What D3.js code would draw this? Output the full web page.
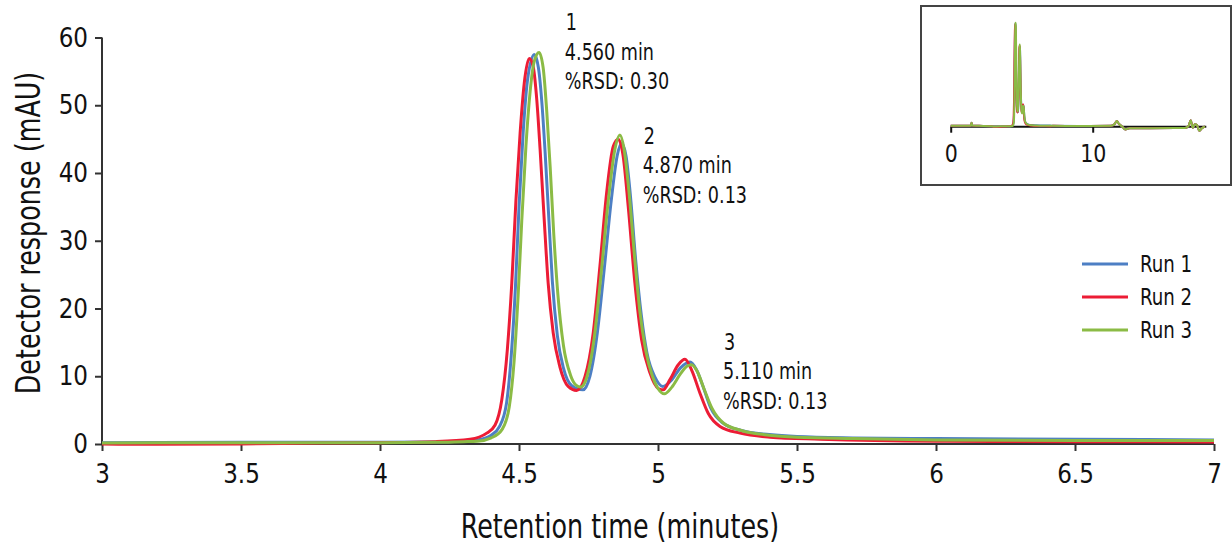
<!DOCTYPE html>
<html>
<head>
<meta charset="utf-8">
<script src="https://cdn.jsdelivr.net/npm/d3@7"></script>
<style>
    body { margin: 0; background: #fff; }
    svg text { font-family: "Liberation Sans Narrow", "DejaVu Sans Condensed", sans-serif; fill: #111; }
</style>
</head>
<body>
<div id="chart"></div>
<script>
// Chromatogram, three replicate runs (retention time in minutes, response in mAU)
var runNames = ["Run 1", "Run 2", "Run 3"];
var runColors = ["#4d7fc4", "#ec1c35", "#8bbb45"];

var run1 = [
    [3.0, 0.2], [3.5, 0.25], [4.0, 0.25], [4.2, 0.3], [4.3, 0.45], [4.35, 0.6], [4.4, 1.3],
    [4.43, 2.6], [4.455, 6], [4.472, 13], [4.487, 23], [4.5, 35], [4.515, 46], [4.53, 53.5],
    [4.555, 57.5], [4.57, 55.5], [4.583, 50], [4.594, 43], [4.607, 33.5], [4.62, 24],
    [4.638, 16], [4.66, 11.2], [4.69, 8.6], [4.73, 8.0], [4.755, 10], [4.782, 16.5],
    [4.807, 26], [4.832, 36], [4.853, 42.5], [4.869, 44.4], [4.885, 42.5], [4.9, 37],
    [4.92, 27], [4.94, 19], [4.96, 13.5], [4.99, 9.8], [5.017, 8.5], [5.05, 9.5],
    [5.08, 11.2], [5.115, 12.1], [5.138, 11], [5.162, 8.5], [5.19, 5.3], [5.23, 3.2],
    [5.3, 2.0], [5.4, 1.4], [5.5, 1.1], [5.7, 0.9], [6.0, 0.8], [6.5, 0.7], [7.0, 0.6]
];

var run2 = [
    [3.0, 0.0], [3.2, -0.05], [3.5, 0.0], [3.8, 0.15], [4.0, 0.2], [4.2, 0.35], [4.324, 0.7],
    [4.384, 1.6], [4.414, 2.8], [4.438, 6.5], [4.458, 13.9], [4.474, 23.7], [4.489, 36],
    [4.504, 45.9], [4.519, 53.3], [4.537, 56.9], [4.551, 55.7], [4.564, 50.8], [4.576, 43.4],
    [4.59, 33.6], [4.605, 23.7], [4.623, 16.4], [4.647, 11.4], [4.677, 8.5], [4.707, 7.9],
    [4.737, 9.9], [4.767, 16.4], [4.791, 26.2], [4.815, 37], [4.839, 43.9], [4.857, 45],
    [4.875, 42.4], [4.893, 35], [4.917, 23.7], [4.941, 15.4], [4.971, 10.5], [5.001, 8.2],
    [5.019, 8.0], [5.043, 9.5], [5.073, 11.7], [5.097, 12.5], [5.121, 10.9], [5.151, 7.5],
    [5.181, 4.5], [5.223, 2.6], [5.295, 1.6], [5.403, 1.0], [5.583, 0.7], [6.0, 0.4],
    [6.5, 0.35], [7.0, 0.3]
];

var run3 = [
    [3.0, 0.15], [3.5, 0.2], [4.0, 0.2], [4.2, 0.25], [4.3, 0.35], [4.35, 0.4], [4.4, 0.9],
    [4.44, 2.2], [4.465, 5.5], [4.482, 12], [4.497, 22], [4.51, 33], [4.525, 44], [4.54, 52],
    [4.555, 56.5], [4.572, 57.8], [4.587, 55.5], [4.6, 49], [4.612, 41], [4.625, 31],
    [4.64, 22], [4.66, 14.5], [4.685, 10.2], [4.705, 8.7], [4.722, 8.4], [4.745, 10],
    [4.77, 15.5], [4.795, 25], [4.82, 35.5], [4.845, 43.5], [4.863, 45.6], [4.878, 43.5],
    [4.895, 37.5], [4.915, 28], [4.935, 19.5], [4.955, 14], [4.98, 10], [5.0, 8.2],
    [5.023, 7.4], [5.05, 8.4], [5.08, 10.3], [5.105, 11.5], [5.121, 11.7], [5.14, 10.8],
    [5.165, 8.2], [5.195, 5.2], [5.235, 3.1], [5.3, 2.0], [5.4, 1.3], [5.5, 1.0],
    [5.7, 0.8], [6.0, 0.6], [6.5, 0.5], [7.0, 0.5]
];

// full run trace outside the zoomed window, shown in the inset only
var insetEarly = [[0, 0.5], [1.3, 0.5], [1.42, 0.6], [1.47, 2.2], [1.52, 0.6], [2.0, 0.5], [2.9, 0.3]];
var insetLate = [
    [7.2, 0.5], [9.0, 0.4], [11.3, 0.5], [11.55, 1.5], [11.7, 3.2], [11.85, 1.5], [12.05, 0.3],
    [12.3, -1.5], [12.6, -0.8], [14.0, -0.8], [16.5, -0.7], [16.75, 0.5], [16.9, 3.6],
    [17.05, -0.6], [17.2, 1.5], [17.35, 0.8], [17.5, -2.3], [17.7, -0.8], [17.9, 0.2]
];

var xTicks = [3, 3.5, 4, 4.5, 5, 5.5, 6, 6.5, 7];
var yTicks = [0, 10, 20, 30, 40, 50, 60];
var insetTicks = [0, 10];

var peakNumbers = ["1", "2", "3"];
var peakTimes = ["4.560 min", "4.870 min", "5.110 min"];
var peakRsd = ["%RSD: 0.30", "%RSD: 0.13", "%RSD: 0.13"];

var xTitle = "Retention time (minutes)";
var yTitle = "Detector response (mAU)";

var W = 1232, H = 545;
// where each peak annotation starts, in data units [time, response]
var labelAnchors = [[4.665, 61.1], [4.945, 44.3], [5.234, 13.9]];

// the reference uses a condensed face; squeeze the fallback font horizontally
function squeeze(selection, k) {
    selection.each(function () {
        var len = this.getComputedTextLength();
        this.setAttribute("textLength", len * k);
        this.setAttribute("lengthAdjust", "spacingAndGlyphs");
    });
}

var svg = d3.select("#chart").append("svg")
    .attr("width", W)
    .attr("height", H);

var x = d3.scaleLinear().domain([3, 7]).range([102, 1214]);
var y = d3.scaleLinear().domain([0, 60]).range([444, 37.5]);

// Axes
var xAxis = svg.append("g")
    .attr("transform", "translate(0," + y(0) + ")")
    .call(d3.axisBottom(x).tickValues(xTicks).tickSize(7).tickPadding(13)
        .tickFormat(function (d) { return String(d); }));

var yAxis = svg.append("g")
    .attr("transform", "translate(" + x(3) + ",0)")
    .call(d3.axisLeft(y).tickValues(yTicks).tickSize(7).tickPadding(7)
        .tickFormat(function (d) { return String(d); }));

[xAxis, yAxis].forEach(function (g) {
    g.select(".domain").attr("stroke", "#333").attr("stroke-width", 2);
    g.selectAll(".tick line").attr("stroke", "#333").attr("stroke-width", 2);
    g.selectAll(".tick text").attr("font-size", 27).attr("fill", "#111");
    squeeze(g.selectAll(".tick text"), 0.95);
});
xAxis.select(".domain").attr("d", "M" + x(3) + ",0H" + x(7));
yAxis.select(".domain").attr("d", "M0," + y(0) + "V" + y(60));

svg.append("text")
    .attr("x", 620)
    .attr("y", 538)
    .attr("text-anchor", "middle")
    .attr("font-size", 34)
    .text(xTitle)
    .call(squeeze, 0.83);

svg.append("text")
    .attr("transform", "translate(40,233) rotate(-90)")
    .attr("text-anchor", "middle")
    .attr("font-size", 34)
    .text(yTitle)
    .call(squeeze, 0.83);

// Traces
var runs = [run1, run2, run3];
var line = d3.line()
    .x(function (d) { return x(d[0]); })
    .y(function (d) { return y(d[1]); })
    .curve(d3.curveMonotoneX);

svg.append("g").selectAll("path")
    .data(runs)
    .enter().append("path")
    .attr("d", line)
    .attr("fill", "none")
    .attr("stroke", function (d, i) { return runColors[i]; })
    .attr("stroke-width", 3)
    .attr("stroke-linejoin", "round");

// Peak annotations: number, retention time, %RSD on three lines
var notes = svg.append("g");
peakNumbers.forEach(function (num, i) {
    var lines = [num, peakTimes[i], peakRsd[i]];
    lines.forEach(function (s, k) {
        notes.append("text")
            .attr("x", x(labelAnchors[i][0]) + (k === 0 ? 1 : 0))
            .attr("y", y(labelAnchors[i][1]) + k * 29.5)
            .attr("font-size", 23)
            .text(s)
            .call(squeeze, 0.85);
    });
});

// Legend
var legend = svg.append("g").attr("transform", "translate(1082,264)");
var item = legend.selectAll("g")
    .data(runNames)
    .enter().append("g")
    .attr("transform", function (d, i) { return "translate(0," + (i * 33) + ")"; });
item.append("line")
    .attr("x1", 0).attr("x2", 46)
    .attr("stroke", function (d, i) { return runColors[i]; })
    .attr("stroke-width", 3);
item.append("text")
    .attr("x", 58)
    .attr("y", 8)
    .attr("font-size", 23)
    .text(function (d) { return d; })
    .call(squeeze, 0.88);

// Inset: whole run
var inset = svg.append("g");
inset.append("rect")
    .attr("x", 921).attr("y", 6)
    .attr("width", 310).attr("height", 179)
    .attr("fill", "#fff")
    .attr("stroke", "#444")
    .attr("stroke-width", 2);

var ix = d3.scaleLinear().domain([0, 18]).range([950.7, 1206.3]);
var iy = d3.scaleLinear().domain([0, 60]).range([126.7, 18.7]);

var insetAxis = inset.append("g")
    .attr("transform", "translate(0," + iy(0) + ")")
    .call(d3.axisBottom(ix).tickValues(insetTicks).tickSize(6).tickPadding(12)
        .tickFormat(function (d) { return String(d); }));
insetAxis.select(".domain").attr("d", "M" + ix(0) + ",0H" + ix(18)).attr("stroke", "#111").attr("stroke-width", 2);
insetAxis.selectAll(".tick line").attr("stroke", "#111").attr("stroke-width", 2);
insetAxis.selectAll(".tick text").attr("font-size", 24).attr("fill", "#111");
squeeze(insetAxis.selectAll(".tick text"), 0.95);

var insetLine = d3.line()
    .x(function (d) { return ix(d[0]); })
    .y(function (d) { return iy(d[1]); })
    .curve(d3.curveMonotoneX);

inset.append("g").selectAll("path")
    .data(runs)
    .enter().append("path")
    .attr("d", function (d) { return insetLine(insetEarly.concat(d, insetLate)); })
    .attr("fill", "none")
    .attr("stroke", function (d, i) { return runColors[i]; })
    .attr("stroke-width", 2)
    .attr("stroke-linejoin", "round");
</script>
</body>
</html>
